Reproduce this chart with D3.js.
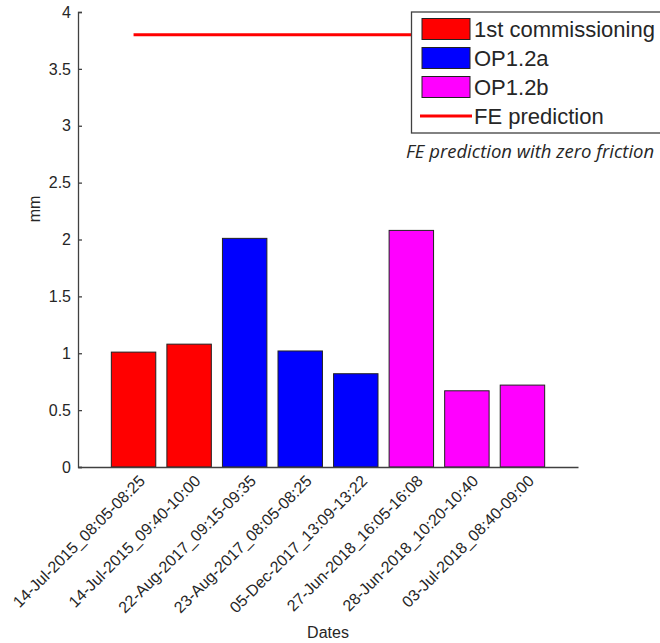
<!DOCTYPE html>
<html>
<head>
<meta charset="utf-8">
<script src="https://cdn.jsdelivr.net/npm/d3@7"></script>
<style>
  body { margin: 0; background: #fff; }
  text { font-family: Arial, "Liberation Sans", sans-serif; fill: #262626; }
</style>
</head>
<body>
<div id="chart"></div>
<script>
const dates = [
  "14-Jul-2015_08:05-08:25",
  "14-Jul-2015_09:40-10:00",
  "22-Aug-2017_09:15-09:35",
  "23-Aug-2017_08:05-08:25",
  "05-Dec-2017_13:09-13:22",
  "27-Jun-2018_16:05-16:08",
  "28-Jun-2018_10:20-10:40",
  "03-Jul-2018_08:40-09:00"
];
const values = [1.01, 1.08, 2.01, 1.02, 0.82, 2.08, 0.67, 0.72];
const groups = ["1st commissioning", "1st commissioning", "OP1.2a", "OP1.2a", "OP1.2a", "OP1.2b", "OP1.2b", "OP1.2b"];
const groupNames = ["1st commissioning", "OP1.2a", "OP1.2b"];
const groupColors = ["#ff0000", "#0000ff", "#ff00ff"];
const fePrediction = 3.8;
const yTicks = [0, 0.5, 1, 1.5, 2, 2.5, 3, 3.5, 4];

const width = 660, height = 643;
const plotLeft = 78, plotRight = 578, plotTop = 12, plotBottom = 467;

const svg = d3.select("#chart").append("svg")
  .attr("width", width)
  .attr("height", height);

// slots 0..9, bars sit on 1..8 like matlab's bar()
const x = d3.scaleLinear().domain([0, dates.length + 1]).range([plotLeft, plotRight]);
const y = d3.scaleLinear().domain([0, 4]).range([plotBottom, plotTop]);
const color = d3.scaleOrdinal().domain(groupNames).range(groupColors);
const barW = (x(1) - x(0)) * 0.8;

svg.selectAll("rect.bar")
  .data(values)
  .enter().append("rect")
  .attr("class", "bar")
  .attr("x", (d, i) => x(i + 1) - barW / 2)
  .attr("y", d => y(d))
  .attr("width", barW)
  .attr("height", d => y(0) - y(d))
  .attr("fill", (d, i) => color(groups[i]))
  .attr("stroke", "#222")
  .attr("stroke-width", 1);

// FE prediction line
svg.append("line")
  .attr("x1", x(1)).attr("x2", x(dates.length))
  .attr("y1", y(fePrediction)).attr("y2", y(fePrediction))
  .attr("stroke", "#ff0000")
  .attr("stroke-width", 3);

// y axis
const yAxis = svg.append("g")
  .attr("transform", `translate(${plotLeft},0)`)
  .call(d3.axisLeft(y).tickValues(yTicks).tickSize(-4).tickPadding(7).tickFormat(d3.format("~g")));
yAxis.select(".domain").attr("stroke", "#404040").attr("stroke-width", 1.3);
yAxis.selectAll(".tick line").attr("stroke", "#404040").attr("stroke-width", 1.3);
yAxis.selectAll(".tick text").attr("font-size", 16).attr("fill", "#262626")
  .style("font-family", "Arial, 'Liberation Sans', sans-serif");

// x axis
const xAxis = svg.append("g")
  .attr("transform", `translate(0,${plotBottom})`)
  .call(d3.axisBottom(x).tickValues(d3.range(1, dates.length + 1)).tickSize(0).tickFormat(d => dates[d - 1]));
xAxis.select(".domain").attr("stroke", "#404040").attr("stroke-width", 1.3);
xAxis.selectAll(".tick text")
  .attr("font-size", 16)
  .attr("fill", "#262626")
  .style("font-family", "Arial, 'Liberation Sans', sans-serif")
  .attr("text-anchor", "end")
  .attr("x", 0).attr("y", 0).attr("dy", 0)
  .attr("transform", "translate(12,15) rotate(-45)");

// axis labels
svg.append("text")
  .attr("transform", "translate(40,209) rotate(-90)")
  .attr("text-anchor", "middle")
  .attr("font-size", 16)
  .text("mm");

svg.append("text")
  .attr("x", (plotLeft + plotRight) / 2)
  .attr("y", 638)
  .attr("text-anchor", "middle")
  .attr("font-size", 16)
  .text("Dates");

// legend
const lg = svg.append("g");
lg.append("rect")
  .attr("x", 411.5).attr("y", 12)
  .attr("width", 270).attr("height", 121)
  .attr("fill", "#fff")
  .attr("stroke", "#404040")
  .attr("stroke-width", 1.3);

const legendItems = groupNames.concat(["FE prediction"]);
const rowY = d3.scalePoint().domain(legendItems).range([29, 116]);

legendItems.forEach((name, i) => {
  const cy = rowY(name);
  if (i < groupNames.length) {
    lg.append("rect")
      .attr("x", 422).attr("y", cy - 10.5)
      .attr("width", 48).attr("height", 21)
      .attr("fill", color(name))
      .attr("stroke", "#222").attr("stroke-width", 1);
  } else {
    lg.append("line")
      .attr("x1", 420).attr("x2", 472)
      .attr("y1", cy).attr("y2", cy)
      .attr("stroke", "#ff0000").attr("stroke-width", 3);
  }
  lg.append("text")
    .attr("x", 474).attr("y", cy)
    .attr("dy", "0.36em")
    .attr("font-size", 22)
    .attr("fill", "#111")
    .text(name);
});

svg.append("text")
  .attr("x", 406).attr("y", 158)
  .attr("font-size", 18.5)
  .style("font-family", "'Open Sans', sans-serif")
  .attr("font-style", "italic")
  .attr("fill", "#111")
  .text("FE prediction with zero friction");
</script>
</body>
</html>
